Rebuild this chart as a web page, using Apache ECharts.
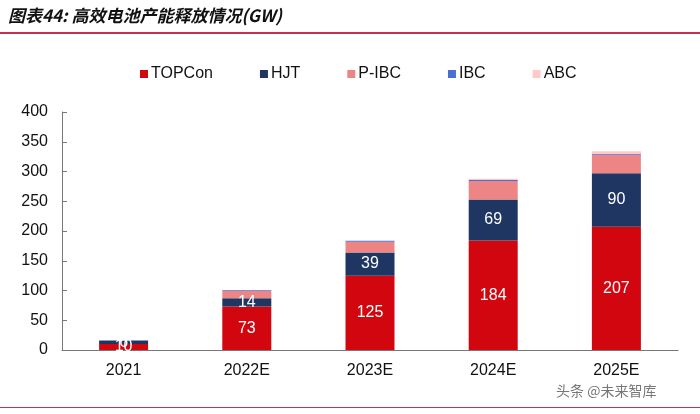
<!DOCTYPE html>
<html><head><meta charset="utf-8">
<script src="https://cdn.jsdelivr.net/npm/echarts@6/dist/echarts.min.js"></script>
<style>html,body{margin:0;padding:0;background:#fff}#c{width:700px;height:414px}</style>
</head><body><div id="c"></div>
<script>
const categories = ['2021', '2022E', '2023E', '2024E', '2025E'];
const topcon = [10, 73, 125, 184, 207];
const hjt = [6, 14, 39, 69, 90];
const pibc = [0, 12, 18, 31, 31];
const ibc = [0, 1.5, 1.5, 2, 2];
const abc = [0, 0, 0, 2, 4];
const yTicks = [0, 400, 50];

const chart = echarts.init(document.getElementById('c'));
const font = 'Arial, "Liberation Sans", sans-serif';
function seg(name, data, color, label) {
  return {
    name, type: 'bar', stack: 'a', data, barWidth: 49,
    itemStyle: { color },
    label: label ? { show: true, position: 'inside', color: '#fff', fontSize: 16, fontFamily: font } : { show: false },
    emphasis: { disabled: true }
  };
}
chart.setOption({
  animation: false,
  textStyle: { fontFamily: font },
  graphic: [
    { type: 'text', left: 8, top: 7, style: { text: '图表44: 高效电池产能释放情况(GW)', font: 'italic bold 17px "Noto Sans CJK SC", sans-serif', fill: '#111' } },
    { type: 'rect', shape: { x: 0, y: 32, width: 700, height: 2 }, style: { fill: '#c8304f' } },
    { type: 'rect', shape: { x: 0, y: 407, width: 700, height: 1 }, style: { fill: '#c8304f' } },
    { type: 'text', left: 556, top: 384, style: { text: '头条 @未来智库', font: '14px "Noto Sans CJK SC", sans-serif', fill: '#555', opacity: 0.8 } }
  ],
  legend: {
    top: 61, left: 135, itemGap: 47, itemWidth: 8, itemHeight: 8, icon: 'rect',
    textStyle: { fontSize: 16, color: '#111', fontFamily: font, padding: [0, 0, 0, -2] },
    data: ['TOPCon', 'HJT', 'P-IBC', 'IBC', 'ABC']
  },
  grid: { left: 62, right: 22, top: 112, bottom: 64 },
  xAxis: {
    type: 'category', data: categories,
    axisLine: { lineStyle: { color: '#777' } },
    axisTick: { inside: true, length: 5, lineStyle: { color: '#777' } },
    axisLabel: { fontSize: 16, color: '#111', margin: 13 }
  },
  yAxis: {
    type: 'value', min: yTicks[0], max: yTicks[1], interval: yTicks[2],
    splitLine: { show: false },
    axisLine: { show: true, lineStyle: { color: '#777' } },
    axisTick: { show: true, inside: true, length: 5, lineStyle: { color: '#777' } },
    axisLabel: { fontSize: 16, color: '#111', margin: 14 }
  },
  series: [
    seg('TOPCon', topcon, '#d2060f', true),
    seg('HJT', hjt, '#1f3663', true),
    seg('P-IBC', pibc, '#ee8585', false),
    seg('IBC', ibc, '#4b6fd0', false),
    seg('ABC', abc, '#ffc9c9', false)
  ]
});
</script></body></html>
